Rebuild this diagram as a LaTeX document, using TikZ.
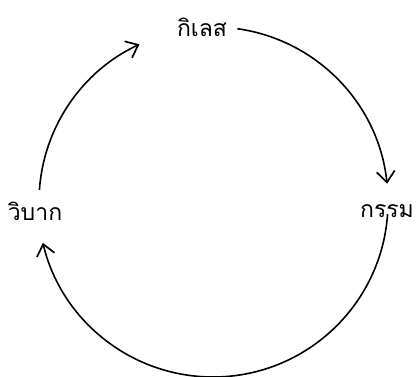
\documentclass[tikz,border=0pt]{standalone}
\usepackage{fontspec}
\newfontfamily\thaifont[Script=Thai]{Loma}
\usetikzlibrary{arrows.meta}
\begin{document}
\begin{tikzpicture}[x=1pt,y=1pt,
  lbl/.style={font=\thaifont\fontsize{23}{27}\selectfont, inner sep=0pt},
  arr/.style={line width=1.6pt, -{Straight Barb[length=11pt,width=18pt,line width=1.7pt]}}]
\useasboundingbox (0,0) rectangle (417,376);
\coordinate (c) at (213,174);
\node[lbl] (kilet) at (202,349) {กิเลส};
\node[lbl] (kam) at (387,165) {กรรม};
\node[lbl] (wibak) at (35,165) {วิบาก};
\draw[arr] (c) ++(82:175) arc[start angle=82,end angle=6,radius=175];
\draw[arr] (c) ++(-4:175) arc[start angle=-4,end angle=-166.5,radius=175];
\draw[arr] (c) ++(176:174) arc[start angle=176,end angle=115,radius=174];
\end{tikzpicture}
\end{document}
